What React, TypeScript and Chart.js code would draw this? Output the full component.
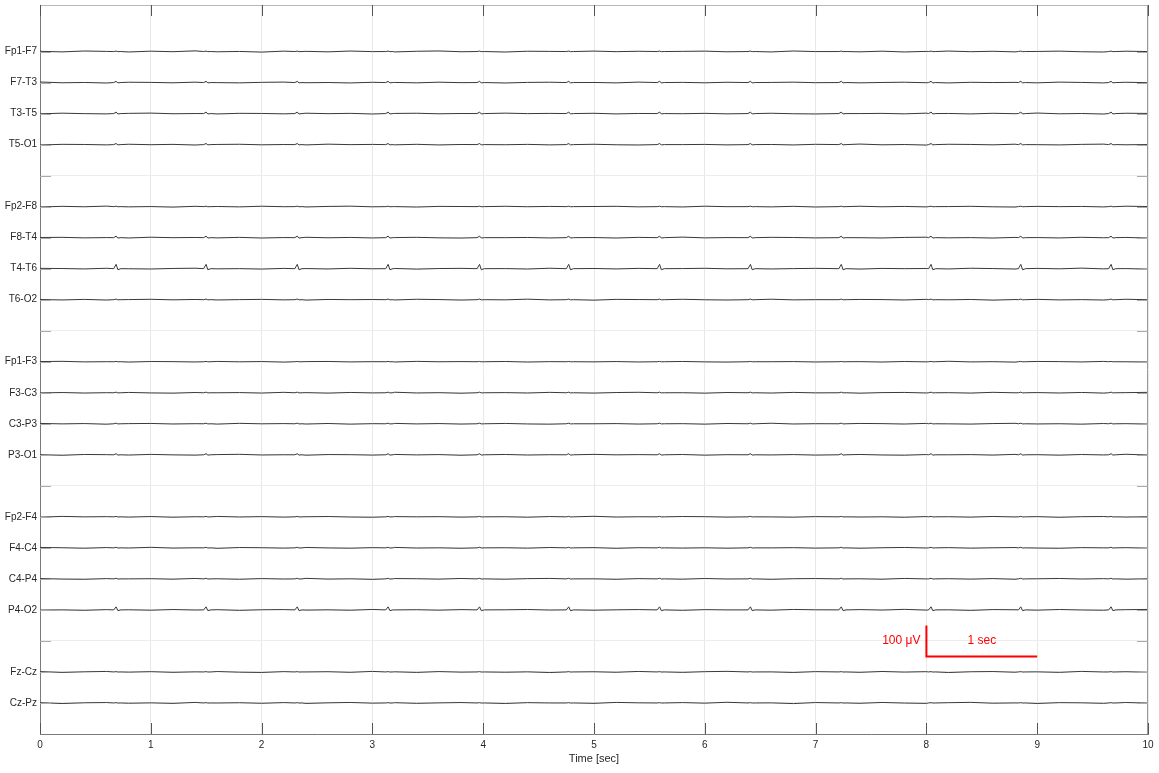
import React, { useEffect, useRef } from 'react';
import { Chart, registerables } from 'chart.js';

Chart.register(...registerables);

// ---------- data ----------
// Row labels from top to bottom ('' = spacer row between montage groups)
const rowLabels: string[] = [
  'Fp1-F7', 'F7-T3', 'T3-T5', 'T5-O1', '',
  'Fp2-F8', 'F8-T4', 'T4-T6', 'T6-O2', '',
  'Fp1-F3', 'F3-C3', 'C3-P3', 'P3-O1', '',
  'Fp2-F4', 'F4-C4', 'C4-P4', 'P4-O2', '',
  'Fz-Cz', 'Cz-Pz',
];

const xTicks: number[] = [0, 1, 2, 3, 4, 5, 6, 7, 8, 9, 10];

// ECG-like artifact times (sec)
const spikeTimes: number[] = [0.695, 1.507, 2.33, 3.15, 3.975, 4.78, 5.60, 6.42, 7.24, 8.05, 8.86, 9.675];

// Spike amplitude per channel (µV), same order as non-empty rowLabels
const spikeAmp: number[] = [
  1.5, 4, 5, 3.5,
  1.5, 5, 14, 2,
  1, 2, 2, 3.5,
  1.5, 2, 2, 10,
  1, 1,
];

// Low-level background wiggle (µV), sampled every 0.2 s
const wiggle: number[] = [
  0.5, -0.8, 1.2, 0.3, -1.0, 0.8, -0.4, 1.5, -0.6, 0.2,
  -1.3, 0.9, 0.4, -0.7, 1.1, -0.2, -0.9, 0.6, 1.3, -0.5,
  0.1, -1.1, 0.7, 0.3, -0.8, 1.0, -0.3, 0.6, -1.2, 0.4,
  0.9, -0.6, 0.2, -0.9, 1.2, -0.1, 0.5, -0.7, 0.8, -1.0,
  0.3, 1.1, -0.4, 0.6, -0.8, 0.2, 0.9, -0.5, -1.1, 0.7, 0.0,
];
const wiggleStep = 0.2;
const wiggleShift: number[] = [0, 7, 13, 21, 4, 29, 11, 36, 17, 42, 25, 9, 33, 2, 46, 19, 38, 27];
const wiggleGain: number[] = [1.5, 1.2, 1.2, 1.2, 1.2, 1.2, 1.2, 1.2, 1, 1.2, 1.2, 1.2, 1.2, 1.2, 1.2, 1.2, 1.5, 1.5];

// Scale bar
const scaleBarTime: number[] = [8, 9];
const scaleBarRows: number[] = [2.5, 3.5];
const scaleBarTexts: string[] = ['100 \u03bcV', '1 sec'];

const uVPerRow = 100;
const yMax = 23.5;

const FONT = '"Liberation Sans", Arial, Helvetica, sans-serif';
const TEXT = '#262626';

export default function App() {
  const ref = useRef<HTMLCanvasElement | null>(null);

  useEffect(() => {
    if (!ref.current) return;
    const nRows = rowLabels.length;
    const rowValue = (i: number) => nRows - i; // top row = 22, bottom = 1

    const datasets: any[] = [];
    let ch = 0;
    rowLabels.forEach((lab, i) => {
      if (!lab) return;
      const base = rowValue(i);
      const pts: { x: number; y: number }[] = [];
      for (let k = 0; k < wiggle.length; k++) {
        const t = k * wiggleStep;
        const near = spikeTimes.some((s) => Math.abs(s - t) < 0.05);
        if (near) continue;
        const v = wiggle[(k + wiggleShift[ch]) % wiggle.length] * wiggleGain[ch];
        pts.push({ x: t, y: base + v / uVPerRow });
      }
      const a = spikeAmp[ch];
      spikeTimes.forEach((s) => {
        pts.push({ x: s - 0.03, y: base });
        pts.push({ x: s - 0.008, y: base + a / uVPerRow });
        pts.push({ x: s + 0.008, y: base - (0.25 * a) / uVPerRow });
        pts.push({ x: s + 0.035, y: base });
      });
      pts.sort((p, q) => p.x - q.x);
      datasets.push({
        label: lab,
        data: pts,
        borderColor: '#3a3a3a',
        borderWidth: 1,
        pointRadius: 0,
        tension: 0,
      });
      ch++;
    });

    datasets.push({
      label: 'scalebar',
      data: [
        { x: scaleBarTime[0], y: scaleBarRows[1] },
        { x: scaleBarTime[0], y: scaleBarRows[0] },
        { x: scaleBarTime[1], y: scaleBarRows[0] },
      ],
      borderColor: '#ff0000',
      borderWidth: 2,
      pointRadius: 0,
      tension: 0,
    });

    const decor = {
      id: 'decor',
      afterDraw(chart: any) {
        const { ctx, chartArea: a, scales } = chart;
        const x = scales.x;
        const y = scales.y;
        ctx.save();
        // top / right box
        ctx.lineWidth = 1;
        ctx.strokeStyle = '#b8b8b8';
        ctx.beginPath();
        ctx.moveTo(a.left, a.top + 0.5);
        ctx.lineTo(a.right, a.top + 0.5);
        ctx.stroke();
        ctx.strokeStyle = '#9a9a9a';
        ctx.beginPath();
        ctx.moveTo(a.right - 0.5, a.top);
        ctx.lineTo(a.right - 0.5, a.bottom);
        ctx.stroke();
        // inner x ticks
        ctx.strokeStyle = '#555';
        xTicks.forEach((t) => {
          const px = Math.round(x.getPixelForValue(t)) + 0.5;
          ctx.beginPath();
          ctx.moveTo(px, a.bottom);
          ctx.lineTo(px, a.bottom - 11);
          ctx.moveTo(px, a.top);
          ctx.lineTo(px, a.top + 11);
          ctx.stroke();
        });
        // inner y ticks
        ctx.strokeStyle = '#aaaaaa';
        rowLabels.forEach((_, i) => {
          const py = Math.round(y.getPixelForValue(rowValue(i))) + 0.5;
          ctx.beginPath();
          ctx.moveTo(a.left, py);
          ctx.lineTo(a.left + 11, py);
          ctx.moveTo(a.right, py);
          ctx.lineTo(a.right - 11, py);
          ctx.stroke();
        });
        // scale bar texts
        const midRow = (scaleBarRows[0] + scaleBarRows[1]) / 2;
        const ty = y.getPixelForValue(midRow);
        ctx.fillStyle = '#ff0000';
        ctx.font = `12px ${FONT}`;
        ctx.textBaseline = 'middle';
        ctx.textAlign = 'right';
        ctx.fillText(scaleBarTexts[0], x.getPixelForValue(scaleBarTime[0]) - 6, ty);
        ctx.textAlign = 'center';
        ctx.fillText(scaleBarTexts[1], x.getPixelForValue((scaleBarTime[0] + scaleBarTime[1]) / 2), ty);
        ctx.restore();
      },
    };

    const chart = new Chart(ref.current, {
      type: 'line',
      data: { datasets },
      options: {
        animation: false,
        responsive: false,
        maintainAspectRatio: false,
        layout: { padding: { top: 5, right: 11, left: 0, bottom: 0 } },
        plugins: { legend: { display: false }, tooltip: { enabled: false } },
        scales: {
          x: {
            type: 'linear',
            min: 0,
            max: 10,
            afterBuildTicks: (s: any) => {
              s.ticks = xTicks.map((v) => ({ value: v }));
            },
            ticks: { color: TEXT, font: { family: FONT, size: 10 }, padding: 5, maxRotation: 0 },
            grid: { color: '#e8e8e8', drawTicks: false },
            border: { color: '#7a7a7a' },
            title: {
              display: true,
              text: 'Time [sec]',
              color: TEXT,
              font: { family: FONT, size: 11 },
              padding: { top: 2, bottom: 7 },
            },
            afterFit: (s: any) => {
              s.height = 39;
              s.paddingLeft = 0;
              s.paddingRight = 0;
            },
          } as any,
          y: {
            type: 'linear',
            min: 0,
            max: yMax,
            afterBuildTicks: (s: any) => {
              s.ticks = rowLabels.map((_, i) => ({ value: rowValue(i) }));
            },
            ticks: {
              color: TEXT,
              font: { family: FONT, size: 10 },
              padding: 3,
              autoSkip: false,
              callback: (v: any) => {
                const i = nRows - Number(v);
                return rowLabels[i] ?? '';
              },
            },
            grid: { color: '#ececec', drawTicks: false },
            border: { color: '#7a7a7a' },
            afterFit: (s: any) => {
              s.width = 40;
              s.paddingTop = 0;
              s.paddingBottom = 0;
            },
          } as any,
        },
      },
      plugins: [decor],
    });
    return () => chart.destroy();
  }, []);

  return (
    <div style={{ position: 'fixed', left: 0, top: 0, width: 1159, height: 773, background: '#fff' }}>
      <canvas ref={ref} width={1159} height={773} style={{ width: 1159, height: 773 }} />
    </div>
  );
}
